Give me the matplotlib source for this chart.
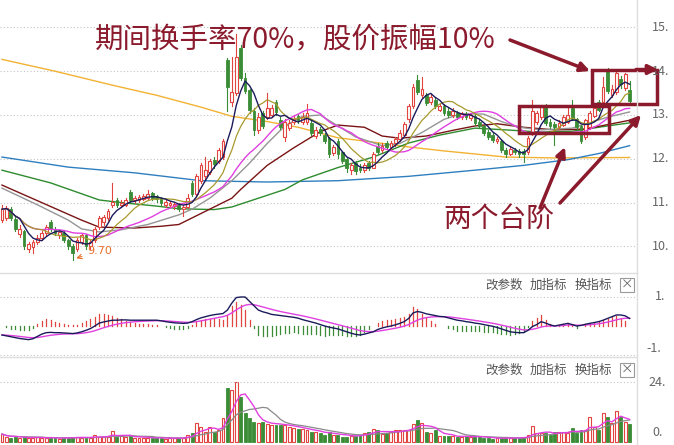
import numpy as np
import pandas as pd
import matplotlib
matplotlib.use('Agg')
import matplotlib.pyplot as plt
from matplotlib.patches import Rectangle

plt.rcParams['font.family'] = ['Noto Sans CJK SC', 'DejaVu Sans']

# daily candles
opens = [10.60, 10.65, 10.85, 10.62, 10.28, 10.35, 9.95, 9.98, 10.10, 10.20,
         10.30, 10.55, 10.40, 10.25, 10.30, 10.15, 10.00, 9.95, 10.10, 10.25,
         10.00, 10.15, 10.45, 10.55, 10.65, 10.95, 11.05, 10.95, 10.95, 11.25,
         11.05, 11.05, 11.08, 11.10, 11.22, 11.15, 11.10, 10.95, 10.95, 10.92,
         10.97, 10.85, 10.90, 11.45, 11.20, 11.50, 11.60, 11.70, 11.98, 11.95,
         12.05, 14.26, 13.30, 13.50, 14.53, 13.85, 13.57, 13.10, 12.66, 13.05,
         12.95, 13.00, 13.30, 12.89, 12.50, 12.70, 12.85, 12.98, 12.85, 12.85,
         12.82, 12.52, 12.68, 12.54, 12.47, 12.13, 12.40, 12.15, 12.00, 11.75,
         11.90, 11.80, 11.75, 11.90, 11.80, 12.30, 12.20, 12.35, 12.27, 12.35,
         12.45, 12.55, 12.90, 13.20, 13.80, 13.45, 13.45, 13.30, 13.35, 13.12,
         13.20, 13.10, 13.00, 13.05, 12.95, 13.02, 12.93, 12.98, 12.85, 12.75,
         12.62, 12.55, 12.40, 12.40, 12.20, 12.12, 12.20, 12.18, 12.18, 12.15,
         12.60, 12.85, 12.95, 13.18, 12.85, 12.80, 12.72, 12.78, 12.85, 13.15,
         12.90, 12.75, 12.50, 12.72, 12.98, 13.30, 13.30, 14.05, 13.45, 13.52,
         13.82, 13.62, 13.57]
closes = [10.85, 10.88, 10.65, 10.40, 10.40, 10.00, 10.05, 10.10, 10.20, 10.30,
          10.45, 10.40, 10.30, 10.32, 10.15, 10.00, 9.85, 10.15, 10.25, 10.00,
          10.10, 10.40, 10.65, 10.68, 10.80, 11.02, 10.95, 11.00, 11.05, 11.05,
          11.10, 11.12, 11.15, 11.20, 11.10, 11.08, 11.00, 11.02, 10.98, 10.97,
          10.85, 10.90, 11.10, 11.20, 11.60, 11.85, 11.75, 11.95, 11.88, 12.20,
          12.40, 13.64, 13.52, 14.32, 13.85, 13.55, 13.11, 12.65, 12.95, 12.75,
          13.15, 13.16, 13.07, 12.73, 12.85, 12.82, 12.92, 12.88, 12.95, 13.05,
          12.60, 12.66, 12.60, 12.40, 12.10, 12.27, 12.10, 11.95, 11.80, 11.85,
          11.72, 11.75, 11.85, 11.80, 12.10, 12.15, 12.30, 12.28, 12.35, 12.45,
          12.60, 12.80, 13.20, 13.65, 13.52, 13.60, 13.28, 13.42, 13.20, 13.20,
          13.05, 13.00, 13.10, 12.95, 13.02, 12.95, 13.00, 12.82, 12.75, 12.60,
          12.50, 12.42, 12.45, 12.20, 12.10, 12.22, 12.15, 12.10, 12.10, 12.48,
          13.10, 13.05, 13.18, 12.82, 12.75, 12.72, 12.82, 12.95, 13.00, 12.92,
          12.72, 12.40, 12.88, 13.05, 13.15, 13.12, 13.65, 13.55, 13.60, 13.96,
          13.70, 13.94, 13.32]
highs = [10.95, 10.92, 10.90, 10.68, 10.48, 10.38, 10.10, 10.15, 10.25, 10.35,
         10.48, 10.60, 10.45, 10.38, 10.35, 10.18, 10.05, 10.20, 10.30, 10.28,
         10.15, 10.45, 10.70, 10.72, 10.85, 11.45, 11.10, 11.05, 11.10, 11.28,
         11.15, 11.18, 11.20, 11.28, 11.25, 11.18, 11.12, 11.06, 11.03, 11.00,
         11.00, 10.95, 11.20, 11.50, 11.65, 11.90, 12.05, 12.00, 12.05, 12.25,
         12.45, 14.30, 14.32, 14.85, 14.60, 13.95, 13.60, 13.15, 13.05, 13.10,
         13.50, 13.22, 13.35, 12.95, 12.90, 12.88, 13.00, 13.02, 13.05, 13.25,
         12.88, 12.72, 12.72, 12.58, 12.50, 12.32, 12.45, 12.18, 12.02, 11.90,
         11.95, 11.88, 11.90, 11.95, 12.15, 12.35, 12.35, 12.40, 12.40, 12.50,
         12.65, 12.85, 13.25, 13.70, 13.92, 13.87, 13.50, 13.48, 13.40, 13.25,
         13.24, 13.15, 13.15, 13.10, 13.06, 13.06, 13.04, 13.02, 12.90, 12.78,
         12.66, 12.58, 12.50, 12.42, 12.24, 12.26, 12.24, 12.22, 12.22, 12.52,
         13.34, 13.10, 13.22, 13.25, 12.90, 12.85, 12.88, 13.00, 13.18, 13.34,
         12.94, 12.78, 12.92, 13.10, 13.20, 13.34, 13.87, 14.08, 13.68, 13.98,
         13.88, 13.96, 13.78]
lows = [10.55, 10.60, 10.60, 10.35, 10.22, 9.95, 9.88, 9.85, 10.05, 10.15,
        10.25, 10.35, 10.25, 10.20, 10.10, 9.95, 9.70, 9.90, 10.05, 9.95,
        9.95, 10.10, 10.40, 10.50, 10.60, 10.90, 10.90, 10.90, 10.92, 11.00,
        11.00, 11.02, 11.05, 11.08, 11.05, 11.02, 10.95, 10.90, 10.90, 10.85,
        10.80, 10.70, 10.88, 11.15, 11.15, 11.45, 11.55, 11.65, 11.80, 11.90,
        12.00, 13.10, 13.20, 13.45, 13.80, 13.50, 13.05, 12.55, 12.60, 12.70,
        12.90, 12.95, 13.00, 12.68, 12.40, 12.65, 12.80, 12.82, 12.80, 12.80,
        12.55, 12.48, 12.55, 12.35, 12.05, 12.08, 12.02, 11.90, 11.70, 11.65,
        11.65, 11.70, 11.70, 11.75, 11.78, 12.10, 12.15, 12.22, 12.22, 12.30,
        12.40, 12.50, 12.85, 13.15, 13.48, 13.40, 13.22, 13.25, 13.15, 13.08,
        13.00, 12.95, 12.96, 12.90, 12.90, 12.90, 12.88, 12.78, 12.70, 12.55,
        12.45, 12.38, 12.36, 12.15, 12.05, 12.08, 12.10, 12.05, 11.92, 12.10,
        12.55, 12.80, 12.90, 12.78, 12.70, 12.32, 12.68, 12.74, 12.82, 12.88,
        12.68, 12.35, 12.45, 12.68, 12.95, 13.08, 13.25, 13.50, 13.40, 13.48,
        13.62, 13.58, 13.28]
volumes = [3.2, 2.0, 1.8, 2.0, 1.6, 2.2, 1.5, 1.8, 2.0, 1.5,
           1.6, 1.8, 1.5, 1.4, 1.6, 1.8, 2.2, 2.0, 1.6, 1.5,
           1.8, 2.8, 2.2, 2.0, 2.2, 4.5, 2.0, 2.4, 2.0, 2.6,
           1.8, 1.6, 1.8, 1.6, 1.8, 1.5, 1.6, 1.4, 1.6, 1.5,
           1.8, 1.5, 2.8, 3.5, 7.5, 6.1, 4.1, 6.1, 4.1, 4.8,
           9.5, 21.7, 20.8, 24.0, 18.1, 11.5, 9.5, 8.0, 7.5, 8.0,
           7.2, 7.0, 7.0, 6.8, 7.0, 6.0, 5.6, 5.2, 5.4, 4.8,
           4.2, 4.0, 3.5, 3.0, 4.0, 3.0, 2.8, 2.2, 2.2, 2.6,
           2.4, 3.0, 3.7, 4.1, 5.1, 4.8, 3.2, 3.6, 4.1, 4.8,
           4.8, 4.8, 4.8, 7.2, 8.8, 7.7, 4.1, 3.7, 4.8, 2.4,
           2.4, 2.4, 2.4, 2.0, 2.0, 2.4, 2.0, 2.4, 2.0, 1.6,
           1.5, 1.4, 1.5, 1.6, 1.8, 1.6, 1.5, 1.6, 2.2, 2.8,
           6.4, 3.5, 3.5, 3.5, 2.8, 4.1, 4.1, 4.1, 3.5, 5.7,
           3.7, 4.8, 4.8, 10.1, 6.1, 4.8, 11.5, 10.1, 7.7, 12.4,
           9.9, 8.1, 7.2]
# MACD DIF line
dif_vals = [-0.31, -0.34, -0.37, -0.40, -0.43, -0.45, -0.47, -0.44, -0.36, -0.28,
            -0.23, -0.22, -0.23, -0.23, -0.24, -0.25, -0.26, -0.24, -0.20, -0.15,
            -0.09, 0.00, 0.10, 0.14, 0.17, 0.20, 0.20, 0.21, 0.21, 0.20,
            0.20, 0.20, 0.20, 0.20, 0.20, 0.20, 0.18, 0.15, 0.13, 0.11,
            0.10, 0.09, 0.10, 0.15, 0.22, 0.28, 0.32, 0.36, 0.39, 0.41,
            0.43, 0.55, 0.79, 0.98, 1.00, 1.00, 0.85, 0.70, 0.55, 0.49,
            0.45, 0.40, 0.38, 0.36, 0.34, 0.32, 0.30, 0.27, 0.22, 0.18,
            0.14, 0.10, 0.05, 0.00, -0.04, -0.07, -0.10, -0.15, -0.20, -0.25,
            -0.29, -0.31, -0.28, -0.24, -0.20, -0.12, -0.07, -0.03, 0.00, 0.04,
            0.09, 0.15, 0.26, 0.45, 0.50, 0.47, 0.42, 0.39, 0.36, 0.33,
            0.32, 0.28, 0.24, 0.20, 0.18, 0.15, 0.13, 0.10, 0.08, 0.05,
            0.02, -0.01, -0.05, -0.10, -0.15, -0.20, -0.22, -0.23, -0.23, -0.15,
            -0.02, 0.05, 0.15, 0.10, 0.04, 0.00, 0.03, 0.06, 0.09, 0.05,
            0.00, 0.02, 0.06, 0.09, 0.12, 0.15, 0.20, 0.26, 0.32, 0.38,
            0.38, 0.35, 0.26]

# long moving averages, read at a few candles (index, value)
ma30_pts = [(0, 11.33), (8, 10.95), (15, 10.6), (18, 10.4), (22, 10.33), (27, 10.38),
            (33, 10.5), (40, 10.72), (43, 10.85), (47, 11.1), (52, 11.5), (56, 11.9),
            (60, 12.35), (64, 12.75), (68, 12.97), (72, 13.0), (76, 12.75), (80, 12.5),
            (86, 12.3), (90, 12.35), (95, 12.6), (100, 12.9), (104, 13.03), (109, 13.02),
            (113, 12.85), (117, 12.72), (122, 12.66), (129, 12.7), (137, 12.95), (142, 13.07)]
ma60_pts = [(0, 11.4), (9, 11.0), (18, 10.6), (22, 10.44), (30, 10.42), (36, 10.46),
            (40, 10.5), (45, 10.75), (52, 11.1), (54, 11.3), (60, 11.85), (66, 12.25),
            (72, 12.62), (76, 12.77), (82, 12.72), (86, 12.52), (90, 12.47), (96, 12.52),
            (102, 12.65), (107, 12.75), (112, 12.8), (118, 12.72), (125, 12.66),
            (132, 12.68), (137, 12.78), (142, 12.88)]
ma120_pts = [(0, 11.74), (11, 11.45), (22, 11.06), (27, 11.0), (35, 10.92), (40, 10.86),
             (48, 10.84), (52, 10.9), (58, 11.1), (64, 11.3), (68, 11.52), (76, 11.8),
             (84, 12.04), (92, 12.36), (99, 12.54), (107, 12.7), (114, 12.66),
             (122, 12.61), (129, 12.63), (137, 12.75), (142, 12.82)]
ma250_pts = [(0, 12.04), (15, 11.81), (30, 11.68), (45, 11.5), (60, 11.47), (76, 11.5),
             (92, 11.6), (107, 11.74), (118, 11.85), (128, 11.98), (135, 12.12), (142, 12.3)]
ma_year_pts = [(0, 14.27), (12, 14.0), (25, 13.68), (35, 13.45), (45, 13.18), (52, 12.97),
               (60, 12.85), (67, 12.72), (76, 12.48), (84, 12.38), (92, 12.27),
               (100, 12.18), (108, 12.1), (114, 12.04), (125, 12.02), (142, 12.03)]

price_ticks = [10, 11, 12, 13, 14, 15]
panel_buttons = ['改参数', '加指标', '换指标']

RED = '#e2453f'
GREEN = '#3a8c36'
ANNO = '#8a1a2c'
GRID = '#c4c4c4'

o = np.array(opens)
c = np.array(closes)
h = np.array(highs)
l = np.array(lows)
v = np.array(volumes)
idx = np.arange(len(c))
up = c >= o

s = pd.Series(c)
ma5 = s.rolling(5, min_periods=1).mean()
ma10 = s.rolling(10, min_periods=1).mean()
ma20 = s.rolling(20, min_periods=1).mean()
dif = pd.Series(dif_vals)
dea = dif.ewm(span=9, adjust=False).mean()
hist = 2 * (dif - dea)
vs = pd.Series(v)
vma5 = vs.rolling(5, min_periods=1).mean()
vma10 = vs.rolling(10, min_periods=1).mean()

W, H = 674, 445
fig = plt.figure(figsize=(W / 100, H / 100), dpi=100)
fig.patch.set_facecolor('white')

x0, x1 = -0.45, 143.67
pw = 637 / W

def panel(top, bottom):
    return fig.add_axes([0, 1 - bottom / H, pw, (bottom - top) / H])

ax = panel(0, 272)
am = panel(273, 357)
av = panel(358, 445)
for a in (ax, am, av):
    a.set_xlim(x0, x1)
    a.axis('off')

# ---- main price panel
ax.set_ylim(13 - 157 / 43.8, 13 + 115 / 43.8)
for p in price_ticks:
    ax.axhline(p, color=GRID, lw=0.8, ls=(0, (1, 2)), zorder=0)

def pts_line(a, pts, color, lw=1.0):
    xs, ys = zip(*pts)
    a.plot(xs, ys, color=color, lw=lw, zorder=2)

pts_line(ax, ma_year_pts, '#f2b233')
pts_line(ax, ma250_pts, '#2f7fbf')
pts_line(ax, ma120_pts, '#2e8b2e')
pts_line(ax, ma60_pts, '#7a1414')
pts_line(ax, ma30_pts, '#959595')

cw = 0.62
for i in idx:
    col = RED if up[i] else GREEN
    lo_b, hi_b = min(o[i], c[i]), max(o[i], c[i])
    ax.plot([i, i], [hi_b, h[i]], color=col, lw=0.8, zorder=3)
    ax.plot([i, i], [l[i], lo_b], color=col, lw=0.8, zorder=3)
    if up[i]:
        ax.add_patch(Rectangle((i - cw / 2, lo_b), cw, max(hi_b - lo_b, 0.01),
                               facecolor='white', edgecolor=col, lw=0.8, zorder=3))
    else:
        ax.add_patch(Rectangle((i - cw / 2, lo_b), cw, max(hi_b - lo_b, 0.01),
                               facecolor=col, edgecolor=col, lw=0.6, zorder=3))

ax.plot(idx, ma20, color='#e040e0', lw=1.0, zorder=4)
ax.plot(idx, ma10, color='#a89a2c', lw=0.9, zorder=4)
ax.plot(idx, ma5, color='#1b1b5c', lw=1.0, zorder=4)

lo_i = int(np.argmin(l))
ax.annotate(f'{l[lo_i]:.2f}', xy=(lo_i + 0.2, l[lo_i] + 0.01),
            xytext=(lo_i + 3.3, l[lo_i] + 0.2), color='#e8702a', fontsize=8,
            va='center', ha='left', family='DejaVu Sans',
            arrowprops=dict(arrowstyle='->', color='#e8702a', lw=0.8))

# ---- MACD panel
am.set_ylim(-(357 - 326) / 29, (326 - 273) / 29)
am.axhline(1, color=GRID, lw=0.8, ls=(0, (1, 2)))
for i in idx:
    am.plot([i, i], [0, hist[i]], color=RED if hist[i] >= 0 else GREEN, lw=0.9)
am.plot(idx, dea, color='#e040e0', lw=1.0)
am.plot(idx, dif, color='#1b1b5c', lw=1.0)

# ---- volume panel
av.set_ylim(-1.2, (442 - 358) / 2.5)
av.axhline(24, color=GRID, lw=0.8, ls=(0, (1, 2)))
bw = 0.66
for i in idx:
    if up[i]:
        av.add_patch(Rectangle((i - bw / 2, 0), bw, v[i], facecolor='white',
                               edgecolor=RED, lw=0.8))
    else:
        av.add_patch(Rectangle((i - bw / 2, 0), bw, v[i], facecolor=GREEN,
                               edgecolor=GREEN, lw=0.6))
av.plot(idx, vma10, color='#8a8a8a', lw=0.9)
av.plot(idx, vma5, color='#e040e0', lw=1.0)

# ---- overlay in pixel coordinates for frame lines, labels and annotations
ov = fig.add_axes([0, 0, 1, 1], zorder=10)
ov.set_xlim(0, W)
ov.set_ylim(H, 0)
ov.axis('off')
ov.patch.set_alpha(0)

ov.plot([637, 637], [0, H], color='#dedede', lw=1)
ov.plot([0, 637], [272.5, 272.5], color='#dedede', lw=1)
ov.plot([0, 637], [357, 357], color='#dedede', lw=1)
ov.plot([0, 637], [355, 355], color=GRID, lw=0.8, ls=(0, (1, 2)))

lab = dict(color='#666666', fontsize=9, va='center', ha='left')
for p in price_ticks:
    ov.text(652, 115 - (p - 13) * 43.8, f'{p}.', **lab)
ov.text(655, 297, '1.', **lab)
ov.text(646, 349, '-1.', **lab)
ov.text(648, 382, '24.', **lab)
ov.text(652, 433, '0.', **lab)

for yb in (285, 370):
    for k, t in enumerate(panel_buttons):
        ov.text(485 + k * 45, yb, t, color='#555555', fontsize=9, va='center', ha='left')
    ov.add_patch(Rectangle((620, yb - 7), 14, 14, facecolor='white',
                           edgecolor='#9a9a9a', lw=0.8))
    ov.text(627, yb, '×', color='#666666', fontsize=9, va='center', ha='center')

ov.text(95, 40, '期间换手率70%，股价振幅10%', color=ANNO, fontsize=20.5,
        va='center', ha='left')
ov.text(443, 219, '两个台阶', color=ANNO, fontsize=20, va='center', ha='left')

ov.add_patch(Rectangle((519, 106), 90, 27, fill=False, edgecolor=ANNO, lw=2.5))
ov.add_patch(Rectangle((592, 69.5), 65, 34, fill=False, edgecolor=ANNO, lw=2.5))

arr = dict(arrowstyle='-|>', color=ANNO, lw=2.5, mutation_scale=14, shrinkA=0, shrinkB=0)
ov.annotate('', xy=(590, 71), xytext=(510, 40), arrowprops=arr)
ov.annotate('', xy=(658, 69.5), xytext=(636, 69.5), arrowprops=arr)
ov.annotate('', xy=(565, 147), xytext=(540, 208), arrowprops=arr)
ov.annotate('', xy=(641, 115), xytext=(560, 203), arrowprops=arr)

fig.savefig('out.png', dpi=100, facecolor='white')
